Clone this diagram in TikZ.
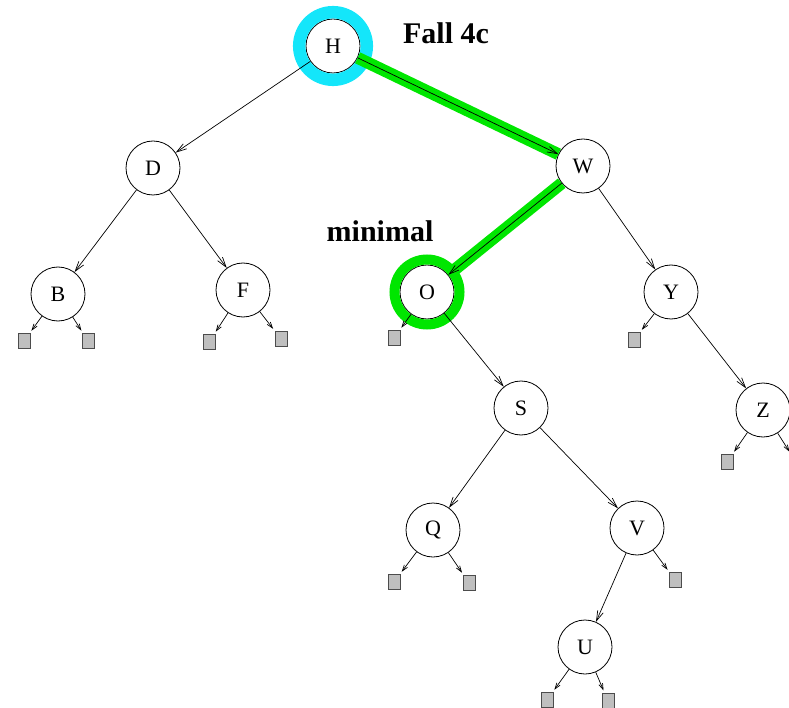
\documentclass[tikz,border=0pt]{standalone}
\usepackage{fontspec}
\setmainfont{Liberation Serif}
\usetikzlibrary{arrows.meta}
\definecolor{ringcyan}{RGB}{20,230,250}
\definecolor{pathgreen}{RGB}{0,230,0}
\tikzstyle{treenode}=[draw, circle, fill=white, line width=0.8pt, minimum size=54pt, inner sep=0pt, font=\fontsize{22}{22}\selectfont]
\tikzstyle{leaf}=[draw=black!70, fill=black!25, line width=0.6pt, minimum width=12pt, minimum height=15pt, inner sep=0pt]
\tikzstyle{treeEdge}=[line width=0.7pt, -{Straight Barb[length=10pt,width=6pt]}]
\tikzstyle{leafEdge}=[line width=0.7pt, -{Straight Barb[length=6pt,width=4pt]}, shorten >=3pt]
\tikzstyle{searchPath}=[line width=12pt, pathgreen]
\tikzstyle{caption}=[inner sep=0pt, font=\fontsize{30}{30}\selectfont\bfseries]

\begin{document}
\begin{tikzpicture}[x=1pt, y=1pt]
    \clip (0,0) rectangle (789,-708);
    \useasboundingbox (0,0) rectangle (789,-708);

    % nodes
    \node[treenode] (H) at (333,-46) {H};
    \node[treenode] (D) at (153,-168) {D};
    \node[treenode] (W) at (583,-166) {W};
    \node[treenode] (B) at (58,-294) {B};
    \node[treenode] (F) at (243,-290) {F};
    \node[treenode] (O) at (427,-292) {O};
    \node[treenode] (Y) at (671,-292) {Y};
    \node[treenode] (S) at (521,-408) {S};
    \node[treenode] (Z) at (763,-410) {Z};
    \node[treenode] (Q) at (433,-530) {Q};
    \node[treenode] (V) at (637,-528) {V};
    \node[treenode] (U) at (585,-647) {U};

    % leaves
    \node[leaf] (Bl) at (24,-341) {};
    \node[leaf] (Br) at (88,-341) {};
    \node[leaf] (Fl) at (209,-342) {};
    \node[leaf] (Fr) at (281,-339) {};
    \node[leaf] (Ol) at (394,-338) {};
    \node[leaf] (Yl) at (634,-340) {};
    \node[leaf] (Zl) at (727,-462) {};
    \node[leaf] (Zr) at (796,-462) {};
    \node[leaf] (Ql) at (394,-582) {};
    \node[leaf] (Qr) at (469,-583) {};
    \node[leaf] (Vr) at (675,-580) {};
    \node[leaf] (Ul) at (547,-700) {};
    \node[leaf] (Ur) at (608,-701) {};

    % marks: root and the minimum
    \draw[ringcyan, line width=12.5pt] (H.center) circle (33.8);
    \draw[pathgreen, line width=10pt] (O.center) circle (32.5);
    \draw[searchPath] (H) -- (W);
    \draw[searchPath] (W) -- (O);

    % tree arcs
    \draw[treeEdge] (H) -- (D);
    \draw[treeEdge] (H) -- (W);
    \draw[treeEdge] (D) -- (B);
    \draw[treeEdge] (D) -- (F);
    \draw[treeEdge] (W) -- (O);
    \draw[treeEdge] (W) -- (Y);
    \draw[treeEdge] (O) -- (S);
    \draw[treeEdge] (Y) -- (Z);
    \draw[treeEdge] (S) -- (Q);
    \draw[treeEdge] (S) -- (V);
    \draw[treeEdge] (V) -- (U);

    % leaf arcs
    \draw[leafEdge] (B) -- (Bl);
    \draw[leafEdge] (B) -- (Br);
    \draw[leafEdge] (F) -- (Fl);
    \draw[leafEdge] (F) -- (Fr);
    \draw[leafEdge] (O) -- (Ol);
    \draw[leafEdge] (Y) -- (Yl);
    \draw[leafEdge] (Z) -- (Zl);
    \draw[leafEdge] (Z) -- (Zr);
    \draw[leafEdge] (Q) -- (Ql);
    \draw[leafEdge] (Q) -- (Qr);
    \draw[leafEdge] (V) -- (Vr);
    \draw[leafEdge] (U) -- (Ul);
    \draw[leafEdge] (U) -- (Ur);

    % captions
    \node[caption] (fall) at (446,-33) {Fall 4c};
    \node[caption] (minlabel) at (380,-231) {minimal};
\end{tikzpicture}
\end{document}
